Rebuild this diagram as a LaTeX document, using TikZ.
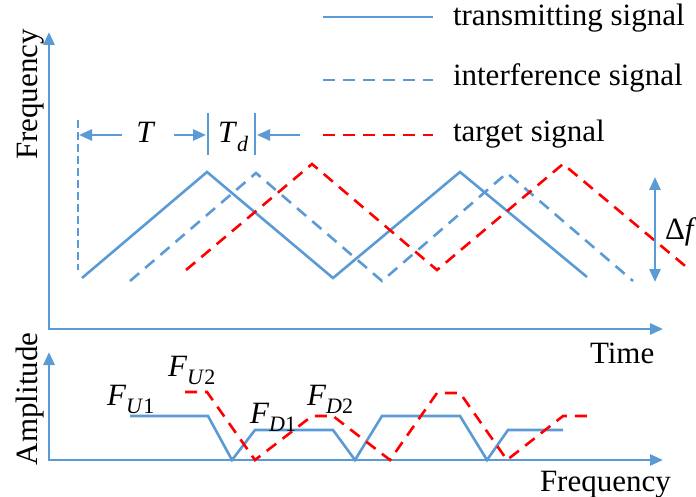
\documentclass[tikz,border=0pt]{standalone}
\usepackage{fontspec}
\setmainfont{Liberation Serif}
\usetikzlibrary{arrows.meta}
\definecolor{sblue}{RGB}{91,155,213}
\newcommand{\subtx}[1]{\raisebox{-0.28em}{\fontsize{22}{22}\selectfont #1}}
\begin{document}
\begin{tikzpicture}[x=1pt,y=-1pt,
  atip/.tip={Triangle[length=13pt,width=11pt]},
  axisln/.style={sblue, line width=2.8pt, line join=miter},
  tx/.style={sblue, line width=2.6pt, line join=miter},
  inf/.style={sblue, line width=2.6pt, dash pattern=on 12pt off 8pt},
  tg/.style={red, line width=2.6pt, dash pattern=on 12pt off 8pt},
  markln/.style={sblue, line width=2.6pt},
  lbl/.style={font=\fontsize{31}{36}\selectfont, inner sep=0pt, outer sep=0pt}]
\useasboundingbox (0,0) rectangle (696,497);

% axes (upper)
\coordinate (ytop) at (49,32);
\coordinate (o1) at (49,329);
\coordinate (xend) at (663,329);
\draw[axisln, atip-atip] (ytop) -- (o1) -- (xend);
% axes (lower)
\coordinate (atop) at (49,352);
\coordinate (o2) at (49,460);
\coordinate (fend) at (663,460);
\draw[axisln, atip-atip] (atop) -- (o2) -- (fend);

\node[lbl, rotate=90, anchor=base west] (freqlbl) at (37,160) {Frequency};
\node[lbl, rotate=90, anchor=base west] (amplbl) at (37,465) {Amplitude};
\node[lbl, anchor=base west] (timelbl) at (590,363) {Time};
\node[lbl, anchor=base west] (freqxlbl) at (540,491) {Frequency};

% legend
\coordinate (l1a) at (323,17); \coordinate (l1b) at (433,17);
\coordinate (l2a) at (323,80); \coordinate (l2b) at (433,80);
\coordinate (l3a) at (323,135); \coordinate (l3b) at (433,135);
\draw[tx] (l1a) -- (l1b);
\draw[inf] (l2a) -- (l2b);
\draw[tg] (l3a) -- (l3b);
\node[lbl, anchor=base west] (leg1) at (453,26) {transmitting signal};
\node[lbl, anchor=base west] (leg2) at (453,86) {interference signal};
\node[lbl, anchor=base west] (leg3) at (453,142) {target signal};

% triangle waves
\draw[tx] (82,278) -- (207,172) -- (333,278) -- (460,172) -- (587,277);
\draw[inf] (130,281) -- (256,173) -- (382,281) -- (507,173) -- (633,281);
\draw[tg] (186,270) -- (312,164) -- (437,270) -- (563,164) -- (690,270);

% T and Td markers
\draw[sblue, line width=2.2pt, dash pattern=on 8pt off 4pt] (78,120) -- (78,270);
\node[lbl, anchor=base] (Tlbl) at (146,143) {\textit{T}};
\coordinate (tl) at (79,135); \coordinate (tla) at (122,135);
\coordinate (tr) at (206,135); \coordinate (tra) at (174,135);
\draw[markln, -atip] (tla) -- (tl);
\draw[markln, -atip] (tra) -- (tr);
\coordinate (b1a) at (208,113); \coordinate (b1b) at (208,155);
\coordinate (b2a) at (255,113); \coordinate (b2b) at (255,155);
\draw[markln] (b1a) -- (b1b);
\draw[markln] (b2a) -- (b2b);
\node[lbl, anchor=base west] (Tdlbl) at (218,143) {\textit{T}\subtx{\textit{d}}};
\coordinate (tdr) at (257,135); \coordinate (tdra) at (300,135);
\draw[markln, -atip] (tdra) -- (tdr);

% delta f
\coordinate (dfa) at (655,177); \coordinate (dfb) at (655,282);
\draw[markln, atip-atip] (dfa) -- (dfb);
\node[lbl, anchor=base west] (dflbl) at (665,240) {Δ\textit{f}};

% spectra
\draw[tx] (130,416) -- (208,416) -- (232,460) -- (255,430) -- (333,430) -- (355,460)
  -- (382,416) -- (460,416) -- (487,460) -- (508,430) -- (563,430);
\draw[tg] (185,392) -- (207,392) -- (255,460) -- (312,416) -- (333,416) -- (390,460)
  -- (437,393) -- (460,393) -- (507,460) -- (563,416) -- (587,416);

\node[lbl, anchor=base west] (fu1) at (107,405) {\textit{F}\subtx{\textit{U}1}};
\node[lbl, anchor=base west] (fu2) at (168,376) {\textit{F}\subtx{\textit{U}2}};
\node[lbl, anchor=base west] (fd1) at (250,423) {\textit{F}\subtx{\textit{D}1}};
\node[lbl, anchor=base west] (fd2) at (307,405) {\textit{F}\subtx{\textit{D}2}};
\end{tikzpicture}
\end{document}
